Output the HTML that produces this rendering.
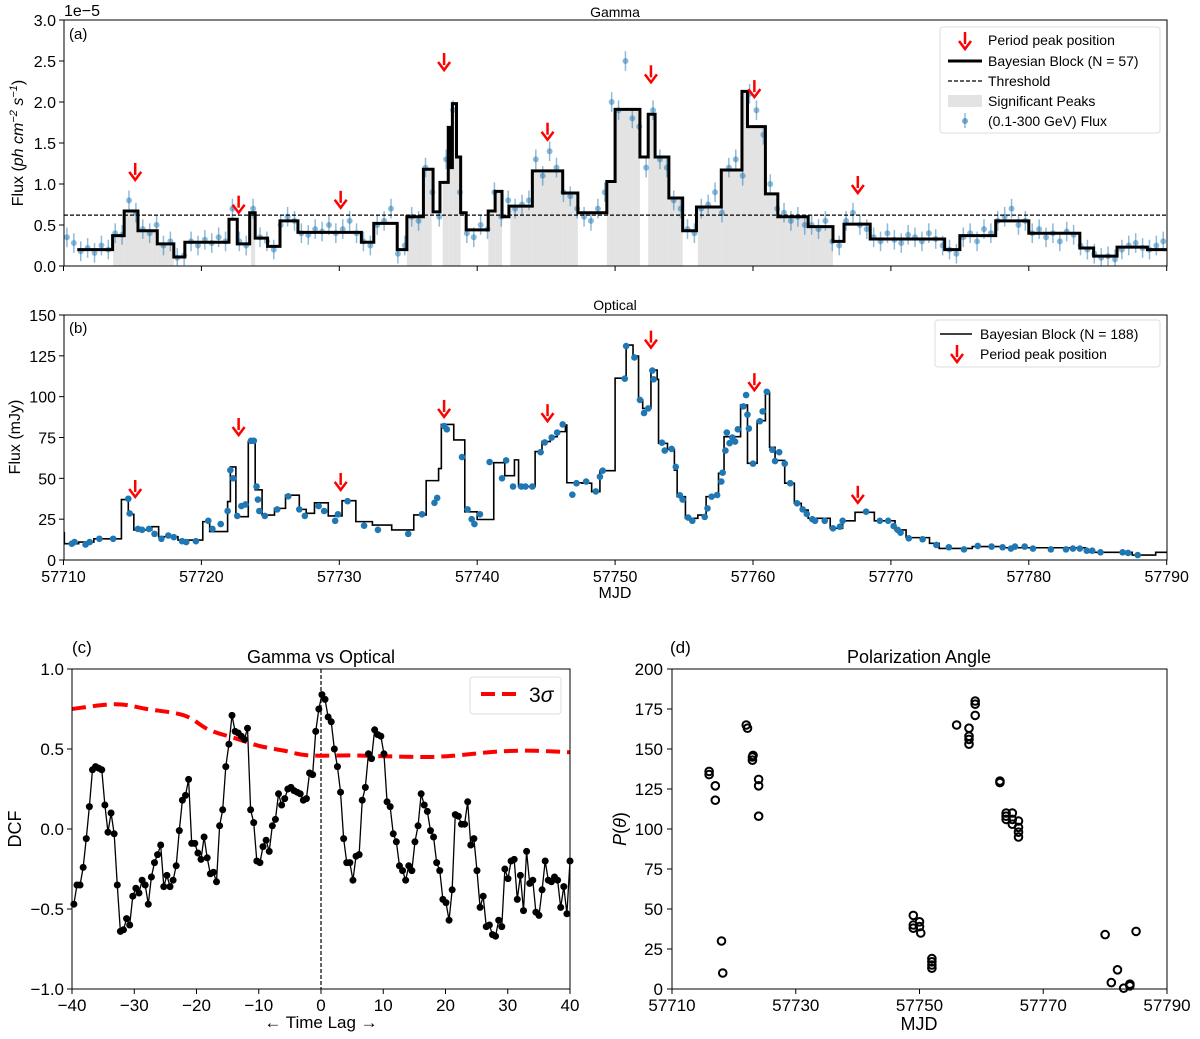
<!DOCTYPE html>
<html><head><meta charset="utf-8"><style>
body{margin:0;background:#fff}
svg{display:block;font-family:"Liberation Sans","DejaVu Sans",sans-serif}
</style></head><body>
<svg id="fig" width="1200" height="1039" viewBox="0 0 1200 1039" xmlns="http://www.w3.org/2000/svg">
<defs>
<clipPath id="clipA"><rect x="64" y="20" width="1103" height="246"/></clipPath>
<clipPath id="clipB"><rect x="64" y="315" width="1103" height="245"/></clipPath>
<clipPath id="clipC"><rect x="72" y="669" width="498" height="320"/></clipPath>
</defs>
</svg>
<script>
// ---------- DATA: panel (a) gamma ----------
const gEdges=[57711.0,57713.56,57714.4,57715.4,57716.8,57718.0,57718.8,57722.0,57722.6,57723.5,57723.9,57724.8,57725.7,57727.0,57731.6,57732.5,57734.2,57734.9,57736.1,57736.8,57737.3,57737.9,57738.1,57738.2,57738.5,57738.8,57739.2,57740.8,57741.3,57741.8,57742.3,57744.0,57746.2,57747.3,57749.4,57750.0,57751.8,57752.4,57752.9,57753.9,57754.9,57755.9,57757.7,57759.2,57759.6,57760.9,57761.8,57764.0,57765.8,57766.6,57768.5,57773.9,57775.0,57777.6,57780.0,57783.7,57784.7,57786.4,57788.6,57790];
const gLevels=[0.2,0.37,0.67,0.43,0.27,0.11,0.29,0.57,0.27,0.65,0.34,0.24,0.55,0.41,0.29,0.52,0.2,0.6,1.18,0.66,1.02,1.69,1.2,1.98,1.33,0.65,0.44,0.67,0.91,0.6,0.73,1.16,0.89,0.65,1.03,1.91,1.33,1.85,1.33,0.83,0.43,0.72,1.17,2.13,1.70,0.88,0.6,0.48,0.30,0.51,0.33,0.2,0.37,0.55,0.40,0.22,0.12,0.23,0.2];
const gFlux=[0.35,0.28,0.18,0.22,0.16,0.25,0.2,0.4,0.38,0.8,0.65,0.45,0.4,0.5,0.25,0.3,0.1,0.13,0.3,0.25,0.32,0.28,0.35,0.3,0.7,0.3,0.25,0.7,0.35,0.3,0.2,0.5,0.6,0.55,0.4,0.38,0.45,0.42,0.5,0.4,0.45,0.55,0.4,0.3,0.25,0.5,0.55,0.7,0.15,0.25,0.6,0.55,1.2,0.9,0.6,1.3,1.9,0.9,0.4,0.35,0.5,0.45,0.9,0.6,0.8,0.7,0.75,0.8,1.3,1.1,1.4,1.2,0.9,0.85,0.7,0.6,0.55,0.7,0.9,2.0,1.9,2.5,1.8,1.7,1.2,1.9,1.3,1.2,0.8,0.7,0.45,0.4,0.7,0.75,0.9,0.65,1.2,1.3,1.1,2.1,1.9,1.6,1.0,0.7,0.65,0.55,0.6,0.5,0.5,0.45,0.55,0.3,0.25,0.55,0.65,0.5,0.45,0.35,0.3,0.4,0.32,0.28,0.38,0.35,0.3,0.4,0.33,0.25,0.2,0.15,0.35,0.4,0.3,0.45,0.4,0.55,0.6,0.7,0.5,0.55,0.4,0.45,0.35,0.4,0.3,0.42,0.38,0.25,0.2,0.15,0.1,0.12,0.08,0.2,0.25,0.28,0.22,0.2,0.25,0.3];
const gTimeStart=57710.25, gTimeStep=0.5;
const gThreshold=0.62;
const shadeStart=[57713.6,57723.6,57734.9,57737.5,57740.8,57742.4,57749.4,57752.4,57756.0];
const shadeEnd=[57718.0,57723.9,57736.7,57738.8,57741.8,57747.3,57751.8,57754.9,57765.8];
const peakMjd=[57715.2,57722.7,57730.1,57737.6,57745.1,57752.6,57760.1,57767.6];
const gArrowTip=[1.05,0.65,0.71,2.39,1.54,2.24,2.06,0.89];
const oArrowTip=[38.6,76.5,42.9,87.6,85,130,104,35];
const aYTicks=[0,0.5,1.0,1.5,2.0,2.5,3.0];
const aYLabels=["0.0","0.5","1.0","1.5","2.0","2.5","3.0"];
const mjdTicks=[57710,57720,57730,57740,57750,57760,57770,57780,57790];
// ---------- DATA: panel (b) optical ----------
const oEdges=[57710,57710.06,57711.1,57712.2,57714.2,57714.7,57715.1,57716.4,57716.9,57718.3,57720.1,57720.6,57721.9,57722.1,57722.5,57723.4,57723.9,57724.4,57725.3,57726.1,57727.1,57727.6,57728.2,57729.2,57730.2,57731.2,57732.4,57733.8,57735.4,57736.3,57737.2,57737.4,57738.3,57739.1,57740.0,57741.2,57742.0,57742.7,57743.0,57744.2,57744.7,57745.3,57745.8,57746.4,57746.5,57747.6,57748.3,57748.9,57750.0,57750.8,57751.3,57751.7,57752.0,57752.6,57753.05,57753.15,57753.8,57754.3,57754.5,57755.1,57756.0,57756.6,57757.5,57757.9,57759.1,57759.6,57760.3,57760.9,57761.2,57761.6,57762.3,57763.0,57763.5,57764.0,57765.6,57766.5,57767.4,57768.8,57770.3,57771.1,57772.8,57773.5,57775.9,57778.1,57784.1,57787.5,57789.2,57790];
const oLevels=[16.7,10,11,13,37,28,18.4,20.4,14.3,12.2,23.5,17.4,35.8,57,26.5,72.5,43,27.5,31.6,39.7,31,28.6,35,27,36.3,23.5,21.4,18.4,27.6,48.6,56,83,73.5,29.5,24.8,59.6,51.6,61.3,45,66.4,72.5,75.5,78.6,82.6,47.3,47,41.8,54.7,111.3,131.6,124.9,98,92.8,116.3,110.6,71.4,67.7,55,38.8,25.5,27.5,38.8,53.1,75.5,94.9,59.2,85.3,102.7,69,61,47,34.7,30.6,25.5,19.4,24,29.2,24,18.4,13.7,10.2,7.1,8.2,7.5,4.7,3,4.7];
const oTime=[57710.6,57710.8,57711.6,57711.9,57712.6,57713.6,57714.7,57714.8,57715.4,57715.7,57716.2,57716.6,57717.1,57717.6,57718.0,57718.6,57718.9,57719.6,57720.5,57720.8,57721.4,57721.9,57722.1,57722.3,57722.6,57722.9,57723.2,57723.6,57723.8,57724.0,57724.1,57724.2,57724.6,57725.5,57726.3,57727.1,57727.5,57728.5,57728.9,57729.7,57729.9,57730.6,57731.8,57732.8,57735.0,57736.0,57736.9,57737.1,57737.6,57737.8,57738.9,57739.3,57739.6,57739.8,57740.2,57740.9,57741.8,57742.1,57742.6,57743.2,57743.5,57744.0,57744.6,57744.9,57745.4,57745.8,57746.2,57746.9,57747.2,57747.9,57748.6,57748.9,57749.1,57750.7,57750.8,57751.4,57751.8,57752.1,57752.4,57752.7,57752.8,57753.4,57753.6,57754.1,57754.4,57754.7,57754.9,57755.3,57755.6,57756.5,57756.7,57757.0,57757.4,57757.7,57757.8,57758.0,57758.1,57758.3,57758.5,57758.7,57758.9,57759.3,57759.5,57759.6,57759.7,57760.0,57760.5,57760.7,57761.0,57761.4,57761.6,57761.9,57762.3,57762.7,57763.2,57763.6,57763.9,57764.3,57764.5,57765.2,57765.8,57766.3,57766.5,57768.2,57769.2,57769.8,57770.2,57770.5,57770.7,57771.3,57772.3,57773.3,57774.2,57775.3,57776.3,57777.3,57778.1,57778.7,57779.0,57779.7,57780.3,57781.6,57782.7,57783.2,57783.7,57784.2,57784.6,57785.2,57786.8,57787.2,57787.9];
const oFlux=[10,11,9.5,11,13,13,37.5,28.5,19,18.5,19,16,13,15,14,11.5,11,11.5,24,19,22,30,55,50,27,33,34,73,73,45,37,30,27,31,39,31,27,33,30,24,28,36,21,18.5,16,28,35,38,82,80,63,31,25,22,28,60,50,61,45,45,45,45,66,72,75,78,83,40,47,48,42,51,54.7,111,131,124,98,90,92.8,116,110.6,71.8,67,68,57,39.6,37,26,24,26.4,31.6,38.8,39.8,48,53.5,67,78,71.5,75,72.5,80,94,101,89,80.5,59,85,91,103,67.5,60.6,66,59,47,34.7,31,28.2,25,24,24,19.4,20.4,24,29.6,24,24,20.8,18.4,16.7,13.3,12.7,9.2,7.8,6.5,8.6,8.2,7.8,7,8.2,8.2,7,6.5,6.5,7,7,5.7,5.7,4.7,4.7,4.3,3];
const bYTicks=[0,25,50,75,100,125,150];
// ---------- DATA: panel (c) DCF ----------
const dcfValues=[-0.47,-0.35,-0.35,-0.24,-0.06,0.14,0.37,0.39,0.38,0.37,0.15,-0.02,0.10,-0.03,-0.35,-0.64,-0.63,-0.56,-0.6,-0.42,-0.37,-0.40,-0.32,-0.35,-0.47,-0.30,-0.21,-0.16,-0.10,-0.36,-0.29,-0.36,-0.32,-0.23,-0.01,0.18,0.21,0.31,-0.09,-0.09,-0.15,-0.19,-0.05,-0.18,-0.28,-0.27,-0.33,0.02,0.12,0.39,0.53,0.71,0.61,0.6,0.58,0.56,0.63,0.12,0.04,-0.2,-0.21,-0.11,-0.07,-0.14,0.02,0.06,0.22,0.15,0.19,0.25,0.26,0.24,0.23,0.22,0.18,0.19,0.35,0.34,0.61,0.75,0.84,0.81,0.70,0.67,0.5,0.39,0.23,-0.06,-0.21,-0.21,-0.32,-0.17,-0.16,0.18,0.26,0.47,0.44,0.62,0.59,0.58,0.47,0.17,0.14,-0.03,-0.08,-0.23,-0.26,-0.32,-0.23,-0.26,-0.08,0.02,0.22,0.15,0.11,-0.01,-0.05,-0.21,-0.26,-0.44,-0.46,-0.57,-0.38,0.09,0.08,0.03,0.03,0.17,-0.10,-0.06,-0.26,-0.49,-0.42,-0.61,-0.6,-0.66,-0.67,-0.57,-0.61,-0.25,-0.31,-0.2,-0.19,-0.44,-0.29,-0.51,-0.14,-0.34,-0.32,-0.52,-0.54,-0.38,-0.2,-0.32,-0.33,-0.30,-0.32,-0.49,-0.36,-0.53,-0.2];
const dcfLagStart=-39.7, dcfLagEnd=40;
const sigLags=[-40,-33,-28,-22,-18,-14,-10,-6,-2,5,10,17,22,27,33,40];
const sigValues=[0.75,0.78,0.75,0.71,0.62,0.57,0.52,0.49,0.46,0.46,0.455,0.45,0.46,0.48,0.49,0.48];
const cXTicks=[-40,-30,-20,-10,0,10,20,30,40];
const cYTicks=[-1,-0.5,0,0.5,1];
const cYLabels=["\u22121.0","\u22120.5","0.0","0.5","1.0"];
// ---------- DATA: panel (d) polarization ----------
const polMjd=[57716,57716,57717,57717,57718,57718.2,57722,57722.2,57723,57723,57723.1,57724,57724,57724,57749,57749,57749,57750,57750,57750.2,57752,57752,57752,57752,57756,57758,57758,57758,57758,57759,57759,57759,57763,57763,57764,57764,57764,57765,57765,57765,57766,57766,57766,57766,57780,57781,57782,57783,57784,57784,57785];
const polAngle=[136,134,127,118,30,10,165,163,143,145,146,131,127,108,46,40,38,42,39,35,19,17,15,13,165,163,158,156,153,180,178,171,130,129,110,108,106,110,106,103,105,101,98,95,34,4,12,0.5,2,3,36];
const dXTicks=[57710,57730,57750,57770,57790];
const dYTicks=[0,25,50,75,100,125,150,175,200];

// ---------- axes functions ----------
const xa=d=>63.5+(d-57710)*13.79;
const ya=v=>266-v*82;
const yb=v=>560-v*245/150;
const xc=l=>72+(l+40)/80*498;
const yc=v=>829-v*160;
const xd=d=>672+(d-57710)/80*495;
const yd=v=>989-v*1.6;

const svg=document.getElementById('fig');
const NS='http://www.w3.org/2000/svg';
function mk(tag,attrs,parent){const e=document.createElementNS(NS,tag);for(const k in attrs)e.setAttribute(k,attrs[k]);(parent||svg).appendChild(e);return e;}
function txt(s,x,y,size,anchor,parent,extra){const e=mk('text',Object.assign({x:x,y:y,'font-size':size,'text-anchor':anchor||'middle',fill:'#000'},extra||{}),parent);e.textContent=s;return e;}
function arrow(x,yTip,parent){const g=mk('g',{},parent);mk('line',{x1:x,y1:yTip-17,x2:x,y2:yTip-5,stroke:'#f00','stroke-width':2.5},g);mk('path',{d:`M${x-6},${yTip-8} L${x},${yTip} L${x+6},${yTip-8}`,fill:'none',stroke:'#f00','stroke-width':2.5},g);return g;}
function stepPath(edges,levels,xf,yf){let d=`M${xf(edges[0])},${yf(levels[0])}`;for(let i=0;i<levels.length;i++){if(i>0)d+=` V${yf(levels[i])}`;d+=` H${xf(edges[i+1])}`;}return d;}

// ================= PANEL A =================
const pa=mk('g',{});


txt('Gamma',615,17,14,'middle',pa);
txt('1e\u22125',64,16,16,'start',pa);
const pal=txt('(a)',69,39,15,'start',pa);
// shading
const shadeG=mk('g',{'clip-path':'url(#clipA)'},pa);


for(let s=0;s<shadeStart.length;s++){
  for(let i=0;i<gLevels.length;i++){
    const a=Math.max(gEdges[i],shadeStart[s]),b=Math.min(gEdges[i+1],shadeEnd[s]);
    if(b>a){mk('rect',{x:xa(a),y:ya(gLevels[i]),width:xa(b)-xa(a),height:ya(0)-ya(gLevels[i]),fill:'#e3e3e3'},shadeG);}
  }
}
// gamma points
const gpts=mk('g',{'clip-path':'url(#clipA)',fill:'#1f77b4',stroke:'#1f77b4','fill-opacity':0.5,'stroke-opacity':0.5},pa);


for(let i=0;i<gFlux.length;i++){
  const t=gTimeStart+gTimeStep*i,x=xa(t),y=ya(gFlux[i]);
  mk('line',{x1:x,y1:ya(gFlux[i]+0.12),x2:x,y2:ya(Math.max(0,gFlux[i]-0.12)),'stroke-width':1.5},gpts);
  mk('circle',{cx:x,cy:y,r:3,stroke:'none'},gpts);
}
// threshold
const th=mk('line',{x1:64,x2:1167,y1:ya(gThreshold),y2:ya(gThreshold),stroke:'#000','stroke-width':1.2,'stroke-dasharray':'4,2'},pa);


const gb=mk('path',{d:stepPath(gEdges,gLevels,xa,ya),fill:'none',stroke:'#000','stroke-width':3,'clip-path':'url(#clipA)'},pa);


for(let i=0;i<peakMjd.length;i++){const ar=arrow(xa(peakMjd[i]),ya(gArrowTip[i]),pa);

}
mk('rect',{x:64,y:20,width:1103,height:246,fill:'none',stroke:'#000','stroke-width':1},pa);
for(let i=0;i<aYTicks.length;i++){const y=ya(aYTicks[i]);mk('line',{x1:59,x2:64,y1:y,y2:y,stroke:'#000'},pa);txt(aYLabels[i],56,y+6,16,'end',pa);}
for(const m of mjdTicks){mk('line',{x1:xa(m),x2:xa(m),y1:266,y2:271,stroke:'#000'},pa);}
const ayl=mk('text',{x:0,y:0,'font-size':16,'text-anchor':'middle',transform:'translate(23,143) rotate(-90)'},pa);
ayl.innerHTML='Flux (<tspan font-style="italic">ph cm</tspan><tspan font-size="11" dy="-6" font-style="italic">\u22122</tspan><tspan dy="6" font-style="italic"> s</tspan><tspan font-size="11" dy="-6" font-style="italic">\u22121</tspan><tspan dy="6">)</tspan>';


// legend a
const la=mk('g',{},pa);


mk('rect',{x:940,y:27,width:220,height:106,rx:3,fill:'#fff','fill-opacity':0.85,stroke:'#ddd'},la);
arrow(965,49,la);
txt('Period peak position',988,45,14,'start',la);
mk('line',{x1:948,x2:982,y1:61,y2:61,stroke:'#000','stroke-width':3},la);
txt('Bayesian Block (N = 57)',988,66,14,'start',la);
mk('line',{x1:948,x2:982,y1:81,y2:81,stroke:'#000','stroke-width':1.2,'stroke-dasharray':'4,2'},la);
txt('Threshold',988,86,14,'start',la);
mk('rect',{x:948,y:95,width:34,height:12,fill:'#e3e3e3'},la);
txt('Significant Peaks',988,106,14,'start',la);
mk('line',{x1:965,x2:965,y1:113,y2:128,stroke:'#1f77b4','stroke-opacity':0.5,'stroke-width':1.5},la);
mk('circle',{cx:965,cy:121,r:3,fill:'#1f77b4','fill-opacity':0.6},la);
txt('(0.1-300 GeV) Flux',988,126,14,'start',la);

// ================= PANEL B =================
const pb=mk('g',{});


txt('Optical',615,310,14,'middle',pb);
txt('(b)',69,333,15,'start',pb);
const ob=mk('path',{d:stepPath(oEdges,oLevels,xa,yb),fill:'none',stroke:'#000','stroke-width':1.6,'clip-path':'url(#clipB)'},pb);


const opts=mk('g',{fill:'#1f77b4','clip-path':'url(#clipB)'},pb);


for(let i=0;i<oFlux.length;i++){mk('circle',{cx:xa(oTime[i]),cy:yb(oFlux[i]),r:3.3},opts);}
for(let i=0;i<peakMjd.length;i++){const ar=arrow(xa(peakMjd[i]),yb(oArrowTip[i]),pb);

}
mk('rect',{x:64,y:315,width:1103,height:245,fill:'none',stroke:'#000','stroke-width':1},pb);
for(const v of bYTicks){const y=yb(v);mk('line',{x1:59,x2:64,y1:y,y2:y,stroke:'#000'},pb);txt(String(v),56,y+6,16,'end',pb);}
for(const m of mjdTicks){const x=xa(m);mk('line',{x1:x,x2:x,y1:560,y2:565,stroke:'#000'},pb);txt(String(m),x,582,16,'middle',pb);}
const bxl=txt('MJD',615,598,16,'middle',pb);


const byl=txt('Flux (mJy)',0,0,16,'middle',pb,{transform:'translate(20,437) rotate(-90)'});


const lb=mk('g',{},pb);


mk('rect',{x:935,y:320,width:225,height:47,rx:3,fill:'#fff','fill-opacity':0.85,stroke:'#ddd'},lb);
mk('line',{x1:940,x2:972,y1:334,y2:334,stroke:'#000','stroke-width':1.6},lb);
txt('Bayesian Block (N = 188)',980,339,14,'start',lb);
arrow(957,362,lb);
txt('Period peak position',980,359,14,'start',lb);

// ================= PANEL C =================
const pc=mk('g',{});


txt('(c)',72,653,17,'start',pc);
const ct=txt('Gamma vs Optical',321,663,18,'middle',pc);


const vz=mk('line',{x1:xc(0),x2:xc(0),y1:669,y2:989,stroke:'#000','stroke-width':1.2,'stroke-dasharray':'4,2'},pc);


// 3 sigma smooth curve
let sp=sigLags.map((l,i)=>[xc(l),yc(sigValues[i])]);
let sd=`M${sp[0][0]},${sp[0][1]}`;
for(let i=0;i<sp.length-1;i++){const p0=sp[Math.max(0,i-1)],p1=sp[i],p2=sp[i+1],p3=sp[Math.min(sp.length-1,i+2)];
sd+=` C${p1[0]+(p2[0]-p0[0])/6},${p1[1]+(p2[1]-p0[1])/6} ${p2[0]-(p3[0]-p1[0])/6},${p2[1]-(p3[1]-p1[1])/6} ${p2[0]},${p2[1]}`;}
const sig=mk('path',{d:sd,fill:'none',stroke:'#f00','stroke-width':4,'stroke-dasharray':'14,7','clip-path':'url(#clipC)'},pc);


const n=dcfValues.length;const lagAt=i=>dcfLagStart+i*(dcfLagEnd-dcfLagStart)/(n-1);
const dl=mk('polyline',{points:dcfValues.map((v,i)=>xc(lagAt(i))+','+yc(v)).join(' '),fill:'none',stroke:'#000','stroke-width':1.3},pc);


const dm=mk('g',{fill:'#000'},pc);


dcfValues.forEach((v,i)=>mk('circle',{cx:xc(lagAt(i)),cy:yc(v),r:3.5},dm));
mk('rect',{x:72,y:669,width:498,height:320,fill:'none',stroke:'#000'},pc);
for(const l of cXTicks){const x=xc(l);mk('line',{x1:x,x2:x,y1:989,y2:994,stroke:'#000'},pc);txt(l<0?'\u2212'+(-l):String(l),x,1011,17,'middle',pc);}
cYTicks.forEach((v,i)=>{const y=yc(v);mk('line',{x1:67,x2:72,y1:y,y2:y,stroke:'#000'},pc);txt(cYLabels[i],64,y+6,17,'end',pc);});
const cxl=txt('\u2190 Time Lag \u2192',321,1028,17,'middle',pc);


const cyl=txt('DCF',0,0,18,'middle',pc,{transform:'translate(21,829) rotate(-90)'});


const lc=mk('g',{},pc);


mk('rect',{x:470,y:677,width:91,height:37,rx:3,fill:'#fff',stroke:'#ddd'},lc);
mk('line',{x1:481,x2:520,y1:694,y2:694,stroke:'#f00','stroke-width':4,'stroke-dasharray':'14,7'},lc);
const s3=txt('3',529,702,21,'start',lc);s3.innerHTML='3<tspan font-style="italic">\u03c3</tspan>';

// ================= PANEL D =================
const pd=mk('g',{});


txt('(d)',670,653,17,'start',pd);
const dt=txt('Polarization Angle',919,663,18,'middle',pd);


const pp=mk('g',{fill:'none',stroke:'#000','stroke-width':2},pd);


for(let i=0;i<polMjd.length;i++){mk('circle',{cx:xd(polMjd[i]),cy:yd(polAngle[i]),r:3.8},pp);}
mk('rect',{x:672,y:669,width:495,height:320,fill:'none',stroke:'#000'},pd);
for(const m of dXTicks){const x=xd(m);mk('line',{x1:x,x2:x,y1:989,y2:994,stroke:'#000'},pd);txt(String(m),x,1011,17,'middle',pd);}
for(const v of dYTicks){const y=yd(v);mk('line',{x1:667,x2:672,y1:y,y2:y,stroke:'#000'},pd);txt(String(v),663,y+6,17,'end',pd);}
const dxl=txt('MJD',919,1030,18,'middle',pd);


const dyl=mk('text',{x:0,y:0,'font-size':18,'text-anchor':'middle',transform:'translate(626,829) rotate(-90)'},pd);
dyl.innerHTML='<tspan font-style="italic">P</tspan>(<tspan font-style="italic">\u03b8</tspan>)';


</script>
</body></html>
